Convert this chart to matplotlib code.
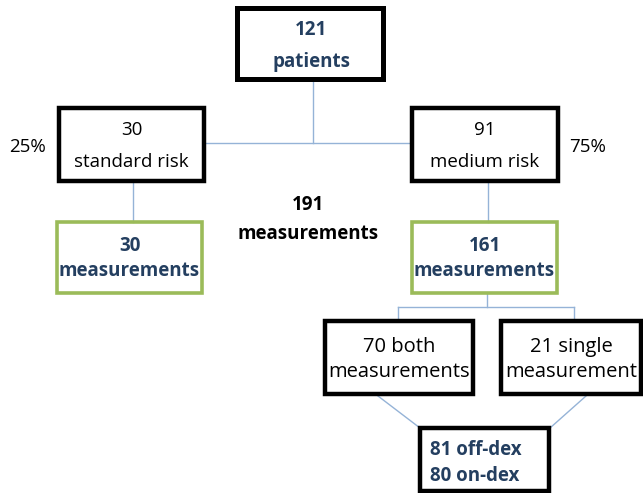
import matplotlib.pyplot as plt
from matplotlib.patches import Rectangle

# data
total_patients = 121
risk_groups = ["standard risk", "medium risk"]
risk_counts = [30, 91]
risk_pct = ["25%", "75%"]
group_measurements = [30, 161]
total_measurements = 191
sub_groups = ["both\nmeasurements", "single\nmeasurement"]
sub_counts = [70, 21]
dex_labels = ["off-dex", "on-dex"]
dex_counts = [81, 80]

DARK = "#243F60"
GREEN = "#9BBB59"
LINE = "#95B3D7"
FONT = ["Open Sans", "DejaVu Sans"]
FS = 13.5

fig = plt.figure(figsize=(6.43, 4.93), dpi=100)
ax = fig.add_axes([0, 0, 1, 1])
ax.set_xlim(0, 643)
ax.set_ylim(493, 0)
ax.axis("off")


def box(x0, y0, x1, y1, color="black", lw=3.2):
    ax.add_patch(Rectangle((x0, y0), x1 - x0, y1 - y0, fill=False,
                           edgecolor=color, linewidth=lw, zorder=3))


def line(xs, ys):
    ax.plot(xs, ys, color=LINE, linewidth=1.0, zorder=1)


def txt(x, y, s, size=FS, color="black", bold=False, ha="center"):
    ax.text(x, y, s, fontsize=size, color=color, ha=ha, va="center",
            fontweight="bold" if bold else "normal", family=FONT, zorder=4)


# top box
box(237, 8, 383, 79, lw=3.6)
txt(311, 30, str(total_patients), color=DARK, bold=True)
txt(311, 62, "patients", color=DARK, bold=True)

# connectors from top
line([313, 313], [79, 143])
line([204, 412], [143, 143])

# risk boxes
risk_x = [(59, 204), (412, 558)]
for (x0, x1), name, n in zip(risk_x, risk_groups, risk_counts):
    box(x0, 108, x1, 181)
    cx = (x0 + x1) / 2
    txt(cx, 130, str(n))
    txt(cx, 162, name)
txt(28, 147, risk_pct[0])
txt(588, 147, risk_pct[1])

# measurement boxes
meas_x = [(57, 202), (412, 557)]
line_x = [133, 488]
for (x0, x1), lx, m in zip(meas_x, line_x, group_measurements):
    line([lx, lx], [181, 222])
    box(x0, 222, x1, 293, color=GREEN, lw=2.6)
    cx = (x0 + x1) / 2
    txt(cx, 246, str(m), color=DARK, bold=True)
    txt(cx, 271, "measurements", color=DARK, bold=True)

txt(308, 205, str(total_measurements), bold=True)
txt(308, 234, "measurements", bold=True)

# split of medium risk
line([487, 487], [293, 307])
line([398, 574], [307, 307])
line([398, 398], [307, 321])
line([574, 574], [307, 321])

sub_x = [(325, 473), (501, 641)]
for (x0, x1), name, n in zip(sub_x, sub_groups, sub_counts):
    box(x0, 321, x1, 394)
    cx = (x0 + x1) / 2
    first, second = name.split("\n")
    txt(cx, 347, f"{n} {first}", size=14.5)
    txt(cx, 372, second, size=14.5)

# bottom box
line([378, 420], [396, 428])
line([586, 550], [396, 428])
box(420, 428, 549, 491)
for y, n, lab in zip([450, 476], dex_counts, dex_labels):
    txt(430, y, f"{n} {lab}", color=DARK, bold=True, ha="left")

fig.savefig("out.png", dpi=100)
